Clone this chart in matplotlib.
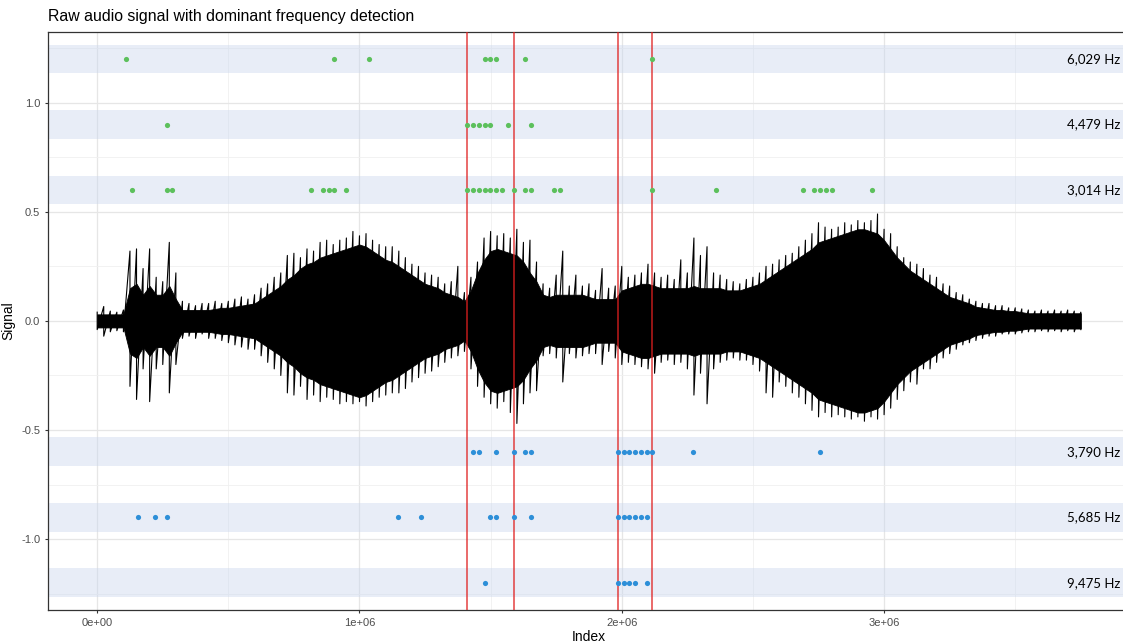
import numpy as np
import matplotlib
matplotlib.use("Agg")
import matplotlib.pyplot as plt

# dominant frequency rows (y level, label) and detected window starts
green_levels = [1.2, 0.9, 0.6]
green_labels = ["6,029 Hz", "4,479 Hz", "3,014 Hz"]
blue_levels = [-0.6, -0.9, -1.2]
blue_labels = ["3,790 Hz", "5,685 Hz", "9,475 Hz"]

green_x_12 = [110250, 904050, 1036350, 1477350, 1499400, 1521450, 1631700, 2116800]
green_x_09 = [264600, 1411200, 1433250, 1455300, 1477350, 1499400, 1565550, 1653750]
green_x_06 = [132300, 264600, 286650, 815850, 859950, 882000, 904050, 948150,
              1411200, 1433250, 1455300, 1477350, 1499400, 1521450, 1543500,
              1587600, 1631700, 1653750, 1741950, 1764000, 2116800, 2359350,
              2690100, 2734200, 2756250, 2778300, 2800350, 2954700]
blue_x_06 = [1433250, 1455300, 1521450, 1587600, 1631700, 1653750, 1984500,
             2006550, 2028600, 2050650, 2072700, 2094750, 2116800, 2271150, 2756250]
blue_x_09 = [154350, 220500, 264600, 1146600, 1234800, 1499400, 1521450, 1587600,
             1653750, 1984500, 2006550, 2028600, 2050650, 2072700, 2094750]
blue_x_12 = [1477350, 1984500, 2006550, 2028600, 2050650, 2094750]

red_lines = [1411200, 1587600, 1984500, 2116800]

# waveform envelope, one value every 25,000 samples
wave_step = 25000
wave_hi = [0.04, 0.066, 0.045, 0.04, 0.05,
           0.32, 0.33, 0.24, 0.33, 0.20, 0.18, 0.36, 0.22,
           0.09, 0.08, 0.07, 0.08, 0.08, 0.09, 0.08,
           0.09, 0.10, 0.11, 0.10, 0.12,
           0.15, 0.17, 0.20, 0.22,
           0.30, 0.31, 0.29, 0.33, 0.32, 0.36, 0.37, 0.35, 0.37,
           0.38, 0.41, 0.39, 0.40, 0.37,
           0.35, 0.34, 0.34, 0.32, 0.29,
           0.26, 0.25, 0.22, 0.21, 0.20,
           0.17, 0.18, 0.25, 0.13,
           0.20, 0.27, 0.38, 0.41,
           0.39, 0.40, 0.38, 0.42,
           0.36, 0.37, 0.27,
           0.17, 0.15, 0.21, 0.32, 0.16, 0.21, 0.16, 0.17,
           0.14, 0.24, 0.15, 0.16,
           0.25, 0.20, 0.21, 0.22, 0.26, 0.22,
           0.20, 0.21, 0.19, 0.28, 0.22, 0.38, 0.30, 0.34, 0.22, 0.21, 0.19, 0.18, 0.17,
           0.19, 0.20, 0.22, 0.25,
           0.26, 0.28, 0.30, 0.31, 0.34,
           0.37, 0.40, 0.45, 0.43, 0.42, 0.43,
           0.45, 0.44, 0.46, 0.45, 0.46, 0.49, 0.42,
           0.40, 0.34, 0.29, 0.27, 0.26, 0.24,
           0.21, 0.20, 0.17, 0.16, 0.13, 0.12, 0.10,
           0.09, 0.08, 0.08, 0.07, 0.07, 0.06, 0.06, 0.055,
           0.05, 0.045, 0.05, 0.045, 0.05, 0.045, 0.05, 0.045, 0.04]
wave_lo = [-0.04, -0.07, -0.05, -0.045, -0.05,
           -0.30, -0.36, -0.22, -0.37, -0.22, -0.20, -0.33, -0.20,
           -0.08, -0.07, -0.08, -0.06, -0.08, -0.08, -0.09,
           -0.10, -0.11, -0.12, -0.13, -0.13,
           -0.16, -0.19, -0.22, -0.25,
           -0.33, -0.34, -0.30, -0.36, -0.34, -0.37, -0.35, -0.36, -0.38,
           -0.37, -0.38, -0.37, -0.39, -0.37,
           -0.35, -0.34, -0.33, -0.33, -0.31,
           -0.28, -0.26, -0.24, -0.23, -0.21,
           -0.19, -0.17, -0.16, -0.14,
           -0.22, -0.30, -0.35, -0.38,
           -0.40, -0.37, -0.42, -0.47,
           -0.38, -0.33, -0.32,
           -0.16, -0.15, -0.17, -0.28, -0.15, -0.17, -0.16, -0.15,
           -0.15, -0.20, -0.14, -0.17,
           -0.20, -0.19, -0.20, -0.21, -0.22, -0.24,
           -0.19, -0.18, -0.20, -0.19, -0.22, -0.34, -0.24, -0.38, -0.22, -0.19, -0.18, -0.17, -0.18,
           -0.18, -0.20, -0.23, -0.33,
           -0.35, -0.28, -0.30, -0.33, -0.35,
           -0.38, -0.41, -0.44, -0.42, -0.44, -0.43,
           -0.44, -0.45, -0.44, -0.46, -0.44, -0.45, -0.43,
           -0.40, -0.36, -0.32, -0.28, -0.29, -0.22,
           -0.22, -0.19, -0.17, -0.15, -0.13, -0.11, -0.10,
           -0.09, -0.08, -0.07, -0.07, -0.06, -0.06, -0.06, -0.055,
           -0.05, -0.05, -0.045, -0.05, -0.045, -0.05, -0.045, -0.05, -0.04]
wave_body = [0.03, 0.03, 0.03, 0.03, 0.03,
             0.15, 0.17, 0.12, 0.16, 0.12, 0.12, 0.16, 0.10,
             0.05, 0.05, 0.05, 0.05, 0.05, 0.055, 0.06,
             0.06, 0.065, 0.07, 0.075, 0.08,
             0.10, 0.12, 0.14, 0.16,
             0.19, 0.21, 0.24, 0.26, 0.27, 0.29, 0.30, 0.31, 0.32,
             0.33, 0.34, 0.35, 0.34, 0.32,
             0.30, 0.28, 0.27, 0.25, 0.23,
             0.21, 0.19, 0.17, 0.16, 0.15,
             0.13, 0.12, 0.11, 0.09,
             0.14, 0.22, 0.28, 0.32,
             0.33, 0.32, 0.31, 0.30,
             0.27, 0.22, 0.18,
             0.12, 0.11, 0.12, 0.12, 0.12, 0.12, 0.12, 0.11,
             0.10, 0.10, 0.10, 0.10,
             0.14, 0.15, 0.16, 0.17, 0.17, 0.16,
             0.15, 0.15, 0.15, 0.15, 0.15, 0.16, 0.15, 0.15, 0.15, 0.15, 0.14, 0.14, 0.14,
             0.15, 0.16, 0.17, 0.19,
             0.21, 0.23, 0.25, 0.27, 0.29,
             0.31, 0.33, 0.36, 0.37, 0.38, 0.39,
             0.40, 0.41, 0.42, 0.42, 0.41, 0.40, 0.37,
             0.33, 0.29, 0.26, 0.23, 0.21, 0.19,
             0.17, 0.15, 0.13, 0.11, 0.10, 0.09, 0.08,
             0.065, 0.06, 0.055, 0.05, 0.05, 0.045, 0.045, 0.04,
             0.035, 0.035, 0.035, 0.035, 0.035, 0.035, 0.035, 0.035, 0.035]

x_ticks = [0, 1e6, 2e6, 3e6]
x_ticklabels = ["0e+00", "1e+06", "2e+06", "3e+06"]
y_ticks = [-1.0, -0.5, 0.0, 0.5, 1.0]
y_ticklabels = ["-1.0", "-0.5", "0.0", "0.5", "1.0"]

GREEN = "#5cc05c"
BLUE = "#2d8fd8"
BAND = "#c9d6ee"

plt.rcParams["font.family"] = ["Liberation Sans", "DejaVu Sans"]

fig = plt.figure(figsize=(11.23, 6.44), dpi=100)
# panel runs a little past the right edge, as in the cropped original
ax = fig.add_axes([48 / 1123, 34 / 644, 1082 / 1123, 578 / 644])

wave_x = np.arange(len(wave_hi)) * wave_step
body = np.array(wave_body)
ax.fill_between(wave_x, -body, body, color="black", lw=0.6, zorder=2)
# zig-zag trace between the read peaks, like a dense audio line
zig_x = np.repeat(wave_x, 2)
zig_y = np.column_stack([wave_hi, wave_lo]).ravel()
ax.plot(zig_x, zig_y, color="black", lw=0.8, zorder=2)

# frequency bands
for lev in green_levels + blue_levels:
    ax.axhspan(lev - 0.066, lev + 0.066, color=BAND, alpha=0.42, lw=0, zorder=1)

for xv in red_lines:
    ax.axvline(xv, color="#e02020", alpha=0.72, lw=1.3, zorder=3)

green_rows = [green_x_12, green_x_09, green_x_06]
blue_rows = [blue_x_06, blue_x_09, blue_x_12]
for lev, xs in zip(green_levels, green_rows):
    ax.scatter(xs, [lev] * len(xs), s=14, color=GREEN, lw=0, zorder=4)
for lev, xs in zip(blue_levels, blue_rows):
    ax.scatter(xs, [lev] * len(xs), s=14, color=BLUE, lw=0, zorder=4)

for lev, lab in zip(green_levels + blue_levels, green_labels + blue_labels):
    ax.text(3.9e6, lev, lab, ha="right", va="center", fontsize=9.5,
            family=["Lato", "DejaVu Sans"], color="black", zorder=5)

ax.set_xlim(-187500, 3937500)
ax.set_ylim(-1.325, 1.324)

ax.set_xticks(x_ticks)
ax.set_xticklabels(x_ticklabels)
ax.set_yticks(y_ticks)
ax.set_yticklabels(y_ticklabels)
ax.set_xticks([0.5e6, 1.5e6, 2.5e6, 3.5e6], minor=True)
ax.set_yticks([-1.25, -0.75, -0.25, 0.25, 0.75, 1.25], minor=True)
ax.grid(which="major", color="#e6e6e6", lw=0.9, zorder=0)
ax.grid(which="minor", color="#f0f0f0", lw=0.6, zorder=0)
ax.set_axisbelow(True)
ax.tick_params(which="major", length=2.5, width=0.8, color="#333333",
               labelsize=8, labelcolor="#4d4d4d", pad=3)
ax.tick_params(which="minor", length=0)
for sp in ax.spines.values():
    sp.set_color("#333333")
    sp.set_linewidth(0.9)

ax.set_xlabel("Index", fontsize=10, labelpad=2)
ax.set_ylabel("Signal", fontsize=10, labelpad=4)

fig.text(48 / 1123, 1 - 17 / 644, "Raw audio signal with dominant frequency detection",
         ha="left", va="center", fontsize=11.4)

fig.savefig("out.png", dpi=100)
